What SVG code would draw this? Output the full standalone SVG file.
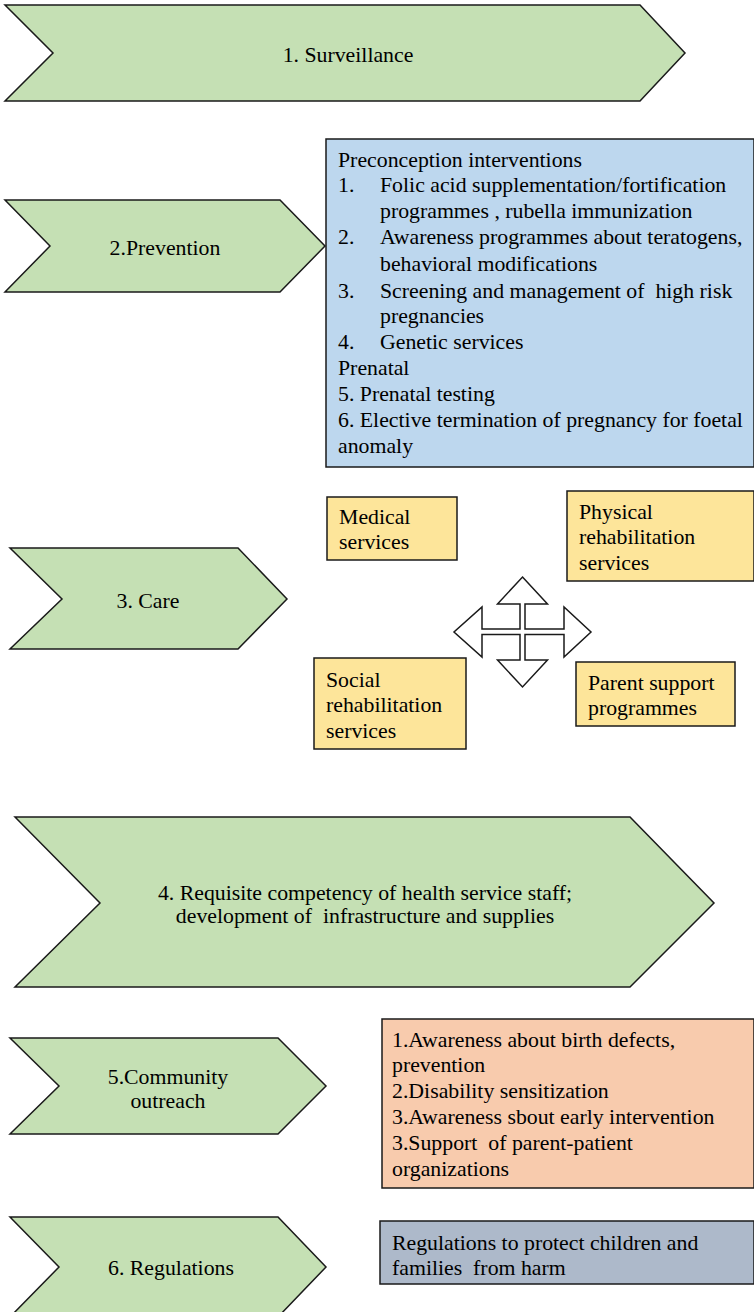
<svg xmlns="http://www.w3.org/2000/svg" width="754" height="1312" viewBox="0 0 754 1312">
  <style>
    .chev { fill: #c5e0b4; stroke: #1a1a1a; stroke-width: 1.5; }
    .box { stroke: #1a1a1a; stroke-width: 1.5; }
    .blue { fill: #bdd7ee; }
    .yellow { fill: #fde59a; }
    .orange { fill: #f8cbad; }
    .grey { fill: #adb9ca; }
    text { font-family: "Liberation Serif", "Times New Roman", serif; font-size: 21.8px; fill: #000; white-space: pre; }
    .c { text-anchor: middle; }
  </style>
  <rect width="754" height="1312" fill="#ffffff"/>

  <g id="surveillance">
    <polygon class="chev" points="5,5 640,5 685,53 640,101 5,101 53,53"/>
    <text class="c" x="348" y="62">1. Surveillance</text>
  </g>

  <g id="prevention">
    <polygon class="chev" points="5,200 280,200 325,246 280,292 5,292 50,246"/>
    <text class="c" x="165" y="255">2.Prevention</text>
  </g>

  <g id="prevention-detail">
    <rect class="box blue" x="326" y="139" width="428" height="328"/>
    <text x="338" y="167">Preconception interventions</text>
    <text x="338" y="192">1.</text><text x="380" y="192">Folic acid supplementation/fortification</text>
    <text x="380" y="218">programmes , rubella immunization</text>
    <text x="338" y="244">2.</text><text x="380" y="244">Awareness programmes about teratogens,</text>
    <text x="380" y="271">behavioral modifications</text>
    <text x="338" y="298">3.</text><text x="380" y="298" xml:space="preserve">Screening and management of  high risk</text>
    <text x="380" y="323">pregnancies</text>
    <text x="338" y="349">4.</text><text x="380" y="349">Genetic services</text>
    <text x="338" y="375">Prenatal</text>
    <text x="338" y="401">5. Prenatal testing</text>
    <text x="338" y="427">6. Elective termination of pregnancy for foetal</text>
    <text x="338" y="453">anomaly</text>
  </g>

  <g id="care">
    <polygon class="chev" points="10,548 238,548 287,599 238,649 10,649 62,599"/>
    <text class="c" x="148" y="608">3. Care</text>
  </g>

  <g id="medical-services">
    <rect class="box yellow" x="327" y="497" width="130" height="63"/>
    <text x="339" y="524">Medical</text>
    <text x="339" y="549">services</text>
  </g>

  <g id="physical-rehabilitation">
    <rect class="box yellow" x="567" y="491" width="187" height="90"/>
    <text x="579" y="519">Physical</text>
    <text x="579" y="544">rehabilitation</text>
    <text x="579" y="570">services</text>
  </g>

  <g id="social-rehabilitation">
    <rect class="box yellow" x="314" y="658" width="152" height="91"/>
    <text x="326" y="687">Social</text>
    <text x="326" y="712">rehabilitation</text>
    <text x="326" y="738">services</text>
  </g>

  <g id="parent-support">
    <rect class="box yellow" x="576" y="662" width="159" height="64"/>
    <text x="588" y="690">Parent support</text>
    <text x="588" y="715">programmes</text>
  </g>

  <g id="connectors">
    <!-- four-way arrow linking the care services -->
    <polygon fill="#ffffff" stroke="#1a1a1a" stroke-width="1.5"
      points="522.5,577 547.5,604 525,604 525,629 564,629 564,607 591,632 564,657 564,634.5 525,634.5 525,660 547.5,660 522.5,687 497.5,660 520,660 520,634.5 482,634.5 482,657 454,632 482,607 482,629 520,629 520,604 497.5,604"/>
  </g>

  <g id="competency">
    <polygon class="chev" points="15,817 630,817 714,903 630,987 15,987 100,903"/>
    <text class="c" x="365" y="900">4. Requisite competency of health service staff;</text>
    <text class="c" x="365" y="923" xml:space="preserve">development of  infrastructure and supplies</text>
  </g>

  <g id="community-outreach">
    <polygon class="chev" points="10,1038 278,1038 326,1086 278,1134 10,1134 59,1086"/>
    <text class="c" x="168" y="1084">5.Community</text>
    <text class="c" x="168" y="1108">outreach</text>
  </g>

  <g id="outreach-detail">
    <rect class="box orange" x="382" y="1019" width="372" height="169"/>
    <text x="392" y="1047">1.Awareness about birth defects,</text>
    <text x="392" y="1072">prevention</text>
    <text x="392" y="1098">2.Disability sensitization</text>
    <text x="392" y="1124">3.Awareness sbout early intervention</text>
    <text x="392" y="1150" xml:space="preserve">3.Support  of parent-patient</text>
    <text x="392" y="1176">organizations</text>
  </g>

  <g id="regulations">
    <polygon class="chev" points="10,1217 278,1217 326,1267 278,1317 10,1317 59,1267"/>
    <text class="c" x="171" y="1275">6. Regulations</text>
  </g>

  <g id="regulations-detail">
    <rect class="box grey" x="380" y="1221" width="374" height="63"/>
    <text x="392" y="1250">Regulations to protect children and</text>
    <text x="392" y="1275" xml:space="preserve">families  from harm</text>
  </g>
</svg>
